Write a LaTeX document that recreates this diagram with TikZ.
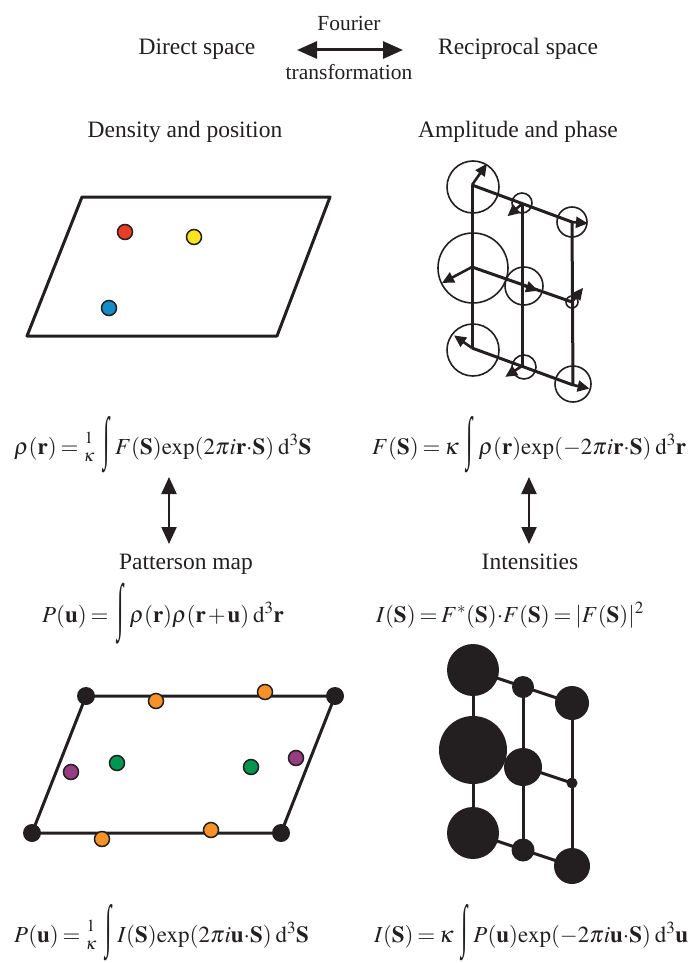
\documentclass[tikz,border=0pt]{standalone}
\usepackage{mathptmx}
\usepackage{graphicx}
\usepackage{fontspec}
\setmainfont{Liberation Serif}
\usetikzlibrary{arrows.meta}
\definecolor{ink}{RGB}{35,31,32}
\definecolor{cred}{RGB}{232,62,40}
\definecolor{cyel}{RGB}{250,228,30}
\definecolor{cblue}{RGB}{20,140,200}
\definecolor{corange}{RGB}{246,146,40}
\definecolor{cgreen}{RGB}{0,150,80}
\definecolor{cpurple}{RGB}{150,60,130}
\newcommand{\tint}{\mkern4mu\mathop{\raisebox{4pt}{$\vcenter{\hbox{\scalebox{1}[2.5]{\rmfamily ∫}}}$}}\nolimits\mkern2.5mu}
\newcommand{\tintc}{\mkern4mu\mathop{\raisebox{3pt}{$\vcenter{\hbox{\scalebox{1}[2.7]{\rmfamily ∫}}}$}}\nolimits\mkern2.5mu}
\newcommand{\kfrac}{{\textstyle{1\atop\kappa}}}
\newcommand{\bdot}{{\cdot}}
\newcommand{\tightmath}{\thickmuskip=3mu\relax\medmuskip=1.5mu\relax\thinmuskip=2mu\relax}
\tikzset{
  lbl/.style={font=\fontsize{23.5}{28}\selectfont, inner sep=0pt, anchor=base, text=ink},
  sml/.style={font=\fontsize{21.5}{26}\selectfont, inner sep=0pt, anchor=base, text=ink},
  frm/.style={font=\fontsize{23}{28}\selectfont, inner sep=0pt, anchor=base west, text=ink},
  frmc/.style={frm, anchor=base},
  cell/.style={line width=3pt, draw=ink, line join=round},
  dot/.style={circle, draw=ink, line width=1.5pt, minimum size=15pt, inner sep=0pt},
  corner/.style={circle, fill=ink, minimum size=18pt, inner sep=0pt},
  ring/.style={circle, draw=ink, line width=1.6pt, inner sep=0pt, minimum size=#1},
  disc/.style={circle, fill=ink, inner sep=0pt, minimum size=#1},
  latt/.style={line width=3pt, draw=ink},
  phase/.style={line width=2.6pt, draw=ink, -{Triangle[length=12pt,width=11pt]}},
  bigarrow/.style={line width=3pt, draw=ink, {Triangle[length=20pt,width=17pt]}-{Triangle[length=20pt,width=17pt]}},
  vertarrow/.style={line width=2.2pt, draw=ink, {Triangle[length=17pt,width=15pt]}-{Triangle[length=17pt,width=15pt]}},
}
\begin{document}
\begin{tikzpicture}[x=1pt,y=-1pt]
\useasboundingbox (0,0) rectangle (688,963);
% header
\node[lbl] (ds) at (197,55) {Direct space};
\node[lbl] (rs) at (518,55) {Reciprocal space};
\node[sml] (fo) at (349,31) {Fourier};
\node[sml] (tr) at (349,80) {transformation};
\coordinate (ha) at (297,50);
\coordinate (hb) at (403,50);
\draw[bigarrow] (ha) -- (hb);
% titles
\node[lbl] (dp) at (185,138) {Density and position};
\node[lbl] (ap) at (518,138) {Amplitude and phase};
% density cell
\coordinate (d1) at (82,197);
\coordinate (d2) at (330,197);
\coordinate (d3) at (277,336);
\coordinate (d4) at (27,336);
\draw[cell] (d1) -- (d2) -- (d3) -- (d4) -- cycle;
\node[dot, fill=cred] (at1) at (125,232) {};
\node[dot, fill=cyel] (at2) at (194,237) {};
\node[dot, fill=cblue] (at3) at (109,308) {};
% amplitude and phase lattice
\coordinate (a11) at (472,185);
\coordinate (a12) at (472,267);
\coordinate (a13) at (472,348);
\coordinate (a21) at (522,204);
\coordinate (a22) at (522,285);
\coordinate (a23) at (522,366);
\coordinate (a31) at (572,222);
\coordinate (a32) at (572,302);
\coordinate (a33) at (573,385);
\draw[latt] (a11) -- (a13);
\draw[latt] (a21) -- (a23);
\draw[latt] (a31) -- (a33);
\draw[latt] (a11) -- (a31);
\draw[latt] (a12) -- (a32);
\draw[latt] (a13) -- (a33);
\node[ring=52pt] (c11) at (473,187) {};
\node[ring=20pt] (c21) at (522,203) {};
\node[ring=30pt] (c31) at (572,222) {};
\node[ring=70pt] (c12) at (473,268) {};
\node[ring=38pt] (c22) at (524,286) {};
\node[ring=12pt] (c32) at (572,302) {};
\node[ring=52pt] (c13) at (473,350) {};
\node[ring=24pt] (c23) at (524,367) {};
\node[ring=36pt] (c33) at (573,384) {};
\draw[phase] (a11) -- ++(55:26pt);
\draw[phase] (a21) -- ++(220:19pt);
\draw[phase] (a31) -- ++(-5:16pt);
\draw[phase] (a12) -- ++(208:34pt);
\draw[phase] (a22) -- ++(-20:17pt);
\draw[phase] (a32) -- ++(52:18pt);
\draw[phase] (a13) -- ++(145:22pt);
\draw[phase] (a23) -- ++(213:20pt);
\draw[phase] (a33) -- ++(-12:17pt);
% formulas row 1
\node[frm] (f1) at (14,454) {$\tightmath\rho(\mathbf{r}) = \kfrac\tint F(\mathbf{S})\mathrm{exp}(2\pi i\mathbf{r}\bdot\mathbf{S})\;\mathrm{d}^3\mathbf{S}$};
\node[frm] (f2) at (372,454) {$\tightmath F(\mathbf{S}) = \kappa\tint\rho(\mathbf{r})\mathrm{exp}(-2\pi i\mathbf{r}\bdot\mathbf{S})\;\mathrm{d}^3\mathbf{r}$};
% vertical arrows
\coordinate (v1a) at (169,477);
\coordinate (v1b) at (169,544);
\coordinate (v2a) at (529,477);
\coordinate (v2b) at (529,544);
\draw[vertarrow] (v1a) -- (v1b);
\draw[vertarrow] (v2a) -- (v2b);
% titles row 2
\node[lbl] (pm) at (186,569) {Patterson map};
\node[lbl] (in) at (530,569) {Intensities};
\node[frmc] (f3) at (163,622) {$\tightmath P(\mathbf{u}) = \tintc\rho(\mathbf{r})\rho(\mathbf{r}+\mathbf{u})\;\mathrm{d}^3\mathbf{r}$};
\node[frmc] (f4) at (510,622) {$\tightmath I(\mathbf{S}) = F^{*}(\mathbf{S})\bdot F(\mathbf{S}) = |F(\mathbf{S})|^2$};
% Patterson cell
\coordinate (p1) at (86,696);
\coordinate (p2) at (335,696);
\coordinate (p3) at (281,833);
\coordinate (p4) at (32,833);
\draw[cell] (p1) -- (p2) -- (p3) -- (p4) -- cycle;
\node[corner] (k1) at (p1) {};
\node[corner] (k2) at (p2) {};
\node[corner] (k3) at (p3) {};
\node[corner] (k4) at (p4) {};
\node[dot, fill=corange] (o1) at (156,701) {};
\node[dot, fill=corange] (o2) at (265,692) {};
\node[dot, fill=corange] (o3) at (102,839) {};
\node[dot, fill=corange] (o4) at (211,830) {};
\node[dot, fill=cgreen] (g1) at (117,763) {};
\node[dot, fill=cgreen] (g2) at (251,767) {};
\node[dot, fill=cpurple] (u1) at (71,772) {};
\node[dot, fill=cpurple] (u2) at (296,758) {};
% intensities lattice
\coordinate (i11) at (473,670);
\coordinate (i12) at (473,750);
\coordinate (i13) at (473,833);
\coordinate (i21) at (523,687);
\coordinate (i22) at (523,767);
\coordinate (i23) at (523,850);
\coordinate (i31) at (572,703);
\coordinate (i32) at (572,783);
\coordinate (i33) at (572,866);
\draw[latt] (i11) -- (i13);
\draw[latt] (i21) -- (i23);
\draw[latt] (i31) -- (i33);
\draw[latt] (i11) -- (i31);
\draw[latt] (i12) -- (i32);
\draw[latt] (i13) -- (i33);
\node[disc=52pt] (s11) at (i11) {};
\node[disc=68pt] (s12) at (i12) {};
\node[disc=52pt] (s13) at (i13) {};
\node[disc=22pt] (s21) at (i21) {};
\node[disc=38pt] (s22) at (i22) {};
\node[disc=23pt] (s23) at (i23) {};
\node[disc=34pt] (s31) at (i31) {};
\node[disc=11pt] (s32) at (i32) {};
\node[disc=36pt] (s33) at (i33) {};
% bottom formulas
\node[frm] (f5) at (14,942) {$\tightmath P(\mathbf{u}) = \kfrac\tint I(\mathbf{S})\mathrm{exp}(2\pi i\mathbf{u}\bdot\mathbf{S})\;\mathrm{d}^3\mathbf{S}$};
\node[frm] (f6) at (374,942) {$\tightmath I(\mathbf{S}) = \kappa\tint P(\mathbf{u})\mathrm{exp}(-2\pi i\mathbf{u}\bdot\mathbf{S})\;\mathrm{d}^3\mathbf{u}$};
\end{tikzpicture}
\end{document}
